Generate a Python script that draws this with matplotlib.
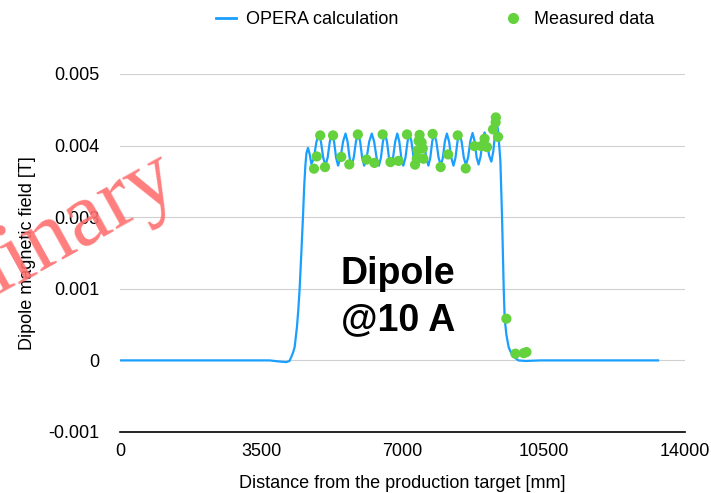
import matplotlib
matplotlib.use("Agg")
import matplotlib.pyplot as plt
from matplotlib.lines import Line2D

# OPERA field map along the beam line (distance in mm, field in T)
opera_x = [0, 1000, 2000, 3000, 3705, 3954, 4120, 4200, 4244, 4290, 4327,
           4384, 4420, 4451, 4495, 4533, 4565, 4593, 4620, 4658, 4700,
           4742, 4802, 4863, 4924, 4979, 5035, 5090, 5145, 5199, 5254,
           5304, 5354, 5404, 5465, 5527, 5588, 5638, 5688, 5737, 5792,
           5846, 5901, 5951, 6000, 6050, 6113, 6175, 6238, 6297, 6357,
           6416, 6466, 6515, 6565, 6615, 6664, 6714, 6766, 6819, 6871,
           6921, 6970, 7020, 7073, 7125, 7169, 7222, 7275, 7328, 7378,
           7427, 7477, 7532, 7587, 7642, 7689, 7736, 7783, 7839, 7894,
           7950, 8000, 8049, 8099, 8154, 8208, 8263, 8313, 8362, 8412,
           8465, 8519, 8572, 8627, 8681, 8736, 8786, 8835, 8885, 8935,
           8984, 9034, 9090, 9145, 9201, 9248, 9295, 9342, 9370, 9400,
           9425, 9467, 9508, 9532, 9574, 9631, 9723, 9872, 10046, 10419,
           11500, 12500, 13330]
opera_b = [0.0, 0.0, 0.0, 0.0, 0.0, -0.00002, -0.00003, -0.00001, 0.00006,
           0.00014, 0.00023, 0.00058, 0.00090, 0.00125, 0.00190, 0.00249,
           0.00305, 0.00340, 0.00362, 0.00371, 0.00360, 0.00343, 0.00352,
           0.00380, 0.00396, 0.00382, 0.00354, 0.00340, 0.00354, 0.00382,
           0.00396, 0.00382, 0.00354, 0.00340, 0.00354, 0.00382, 0.00396,
           0.00382, 0.00354, 0.00340, 0.00354, 0.00382, 0.00396, 0.00382,
           0.00354, 0.00340, 0.00354, 0.00382, 0.00396, 0.00382, 0.00354,
           0.00340, 0.00354, 0.00382, 0.00396, 0.00382, 0.00354, 0.00340,
           0.00354, 0.00382, 0.00396, 0.00382, 0.00354, 0.00340, 0.00354,
           0.00382, 0.00396, 0.00382, 0.00354, 0.00340, 0.00354, 0.00382,
           0.00396, 0.00382, 0.00354, 0.00340, 0.00354, 0.00382, 0.00396,
           0.00382, 0.00354, 0.00340, 0.00354, 0.00382, 0.00396, 0.00382,
           0.00354, 0.00340, 0.00354, 0.00382, 0.00396, 0.00382, 0.00354,
           0.00341, 0.00355, 0.00383, 0.00397, 0.00383, 0.00355, 0.00342,
           0.00356, 0.00384, 0.00398, 0.00384, 0.00358, 0.00347, 0.00364,
           0.00396, 0.00413, 0.00400, 0.00372, 0.00349, 0.00249, 0.00125,
           0.00073, 0.00045, 0.00023, 0.00008, 0.0, -0.00001, 0.0, 0.0,
           0.0, 0.0]

# Hall probe measurements
meas_x = [4807, 4874, 4961, 5080, 5279, 5483, 5682, 5893, 6110, 6304,
          6508, 6702, 6901, 7112, 7311, 7353, 7373, 7398, 7423, 7473,
          7502, 7517, 7746, 7945, 8131, 8368, 8566, 8785, 8952, 9034,
          9094, 9243, 9308, 9313, 9367, 9574, 9798, 10004, 10071]
meas_b = [0.003347, 0.003561, 0.003928, 0.003375, 0.003928, 0.003553,
          0.003422, 0.003945, 0.003506, 0.003448, 0.003945, 0.003462,
          0.003483, 0.003945, 0.003417, 0.003521, 0.003666, 0.003832,
          0.003937, 0.003806, 0.003701, 0.003521, 0.003954, 0.003375,
          0.003596, 0.003928, 0.003352, 0.003741, 0.003741, 0.003870,
          0.003724, 0.004033, 0.004155, 0.004242, 0.003902, 0.000728,
          0.000117, 0.000127, 0.000145]

x_ticks = [0, 3500, 7000, 10500, 14000]
y_ticks = [-0.00125, 0, 0.00125, 0.0025, 0.00375, 0.005]
y_tick_labels = ["-0.001", "0", "0.001", "0.003", "0.004", "0.005"]

BLUE = "#1a9fff"
GREEN = "#63d23c"

plt.rcParams["font.family"] = ["Liberation Sans", "DejaVu Sans"]

fig = plt.figure(figsize=(7.11, 4.93), dpi=100)
ax = fig.add_axes([120 / 711, 1 - 432 / 493, 565 / 711, 358 / 493])

ax.plot(opera_x, opera_b, color=BLUE, lw=1.6, zorder=3, solid_joinstyle="round")
ax.scatter(meas_x, meas_b, s=54, color=GREEN, edgecolors="none", zorder=4)

ax.set_xlim(0, 14000)
ax.set_ylim(-0.00125, 0.005)
ax.set_xticks(x_ticks)
ax.set_xticklabels([str(t) for t in x_ticks])
ax.set_yticks(y_ticks)
ax.set_yticklabels(y_tick_labels)
ax.tick_params(axis="both", length=0, labelsize=13)
ax.tick_params(axis="y", pad=15)
ax.tick_params(axis="x", pad=8)

ax.grid(axis="y", color="#d0d0d0", lw=0.8)
for side in ["top", "right", "left"]:
    ax.spines[side].set_visible(False)
ax.spines["bottom"].set_color("black")
ax.spines["bottom"].set_linewidth(1.2)
ax.set_axisbelow(True)

ax.set_xlabel("Distance from the production target [mm]", fontsize=13, labelpad=11)
ax.set_ylabel("Dipole magnetic field [T]", fontsize=13, labelpad=9)

ax.text(6890, 0.00110, "Dipole\n@10 A", fontsize=27, fontweight="bold",
        ha="center", va="center", linespacing=1.35, zorder=5)

handles = [Line2D([], [], color=BLUE, lw=2),
           Line2D([], [], marker="o", ls="none", color=GREEN, markersize=8,
                  markeredgewidth=0)]
fig.legend(handles, ["OPERA calculation", "Measured data"], loc="center",
           bbox_to_anchor=(0.612, 0.9605), ncol=2, frameon=False, fontsize=13,
           handlelength=1.1, handletextpad=0.6, columnspacing=5.8)

# watermark
fig.text(182 / 711, 1 - 192 / 493, "Preliminary", fontsize=66,
         family=["Liberation Serif", "DejaVu Serif"], color="#ff6f6f",
         alpha=0.9, rotation=29, rotation_mode="anchor", ha="right",
         va="baseline", zorder=10)

fig.savefig("out.png", dpi=100)
